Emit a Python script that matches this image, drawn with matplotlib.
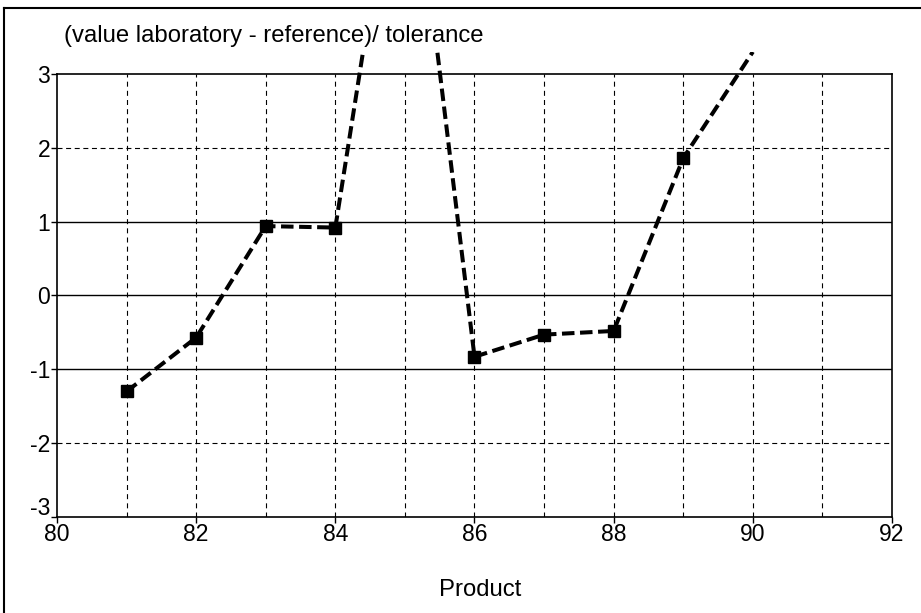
import numpy as np
import matplotlib.pyplot as plt
import matplotlib.transforms as mtransforms
from matplotlib.patches import Rectangle
from matplotlib.lines import Line2D

plt.rcParams['font.family'] = ['Liberation Sans', 'DejaVu Sans']
plt.rcParams['axes.unicode_minus'] = False
plt.rcParams['lines.scale_dashes'] = False

# product number vs (value laboratory - reference)/tolerance
product = [81, 82, 83, 84, 85, 86, 87, 88, 89, 90]
score = [-1.3, -0.57, 0.94, 0.92, 6.9, -0.83, -0.53, -0.48, 1.86, 3.3]

xticks = [80, 82, 84, 86, 88, 90, 92]
yticks = [-3, -2, -1, 0, 1, 2, 3]

fig = plt.figure(figsize=(9.21, 6.13), dpi=100)
ax = fig.add_axes([0.0619, 0.1566, 0.9066, 0.7227])
ax.set_xlim(80, 92)
ax.set_ylim(-3, 3)

# grid: dashed verticals every unit, dashed at +-2, solid at -1, 0, 1
for xv in range(81, 92):
    ax.axvline(xv, color='black', lw=0.8, dashes=(3.6, 3.0), zorder=1)
for yv in yticks[1:-1]:
    if abs(yv) == 2:
        ax.axhline(yv, color='black', lw=0.8, dashes=(3.6, 2.6), zorder=1)
    else:
        ax.axhline(yv, color='black', lw=1.0, zorder=1)

x = np.array(product)
y = np.array(score)
line, = ax.plot(x, y, color='black', lw=2.9, zorder=3, clip_on=True)
line.set_dashes((9.0, 4.0))
line.set_clip_path(Rectangle((80, -3.5), 12, 6.8, transform=ax.transData))
inside = (y >= -3) & (y <= 3)
ax.plot(x[inside], y[inside], 's', color='black', ms=8.5, zorder=4)

ax.set_xticks(xticks)
ax.set_yticks(yticks)
ax.tick_params(axis='both', which='major', direction='out', length=4, width=1,
               labelsize=16.5, colors='black', pad=1)
ax.tick_params(axis='x', pad=0)
for s in ax.spines.values():
    s.set_linewidth(1.2)

# lift the bottom y label so it clears the x labels
fig.canvas.draw()
lab = ax.get_yticklabels()[0]
lab.set_transform(lab.get_transform() +
                  mtransforms.ScaledTranslation(0, 8 / 72, fig.dpi_scale_trans))

fig.text(0.0695, 0.941, '(value laboratory - reference)/ tolerance',
         fontsize=17.2, ha='left', va='center')
fig.text(0.521, 0.0375, 'Product', fontsize=17.2, ha='center', va='center')

# outer frame (top and left edges visible)
fig.add_artist(Line2D([0.0045, 1.0], [0.987, 0.987], transform=fig.transFigure,
                      color='black', lw=1.5))
fig.add_artist(Line2D([0.0045, 0.0045], [0.0, 0.987], transform=fig.transFigure,
                      color='black', lw=1.5))

fig.savefig('out.png', dpi=100)
